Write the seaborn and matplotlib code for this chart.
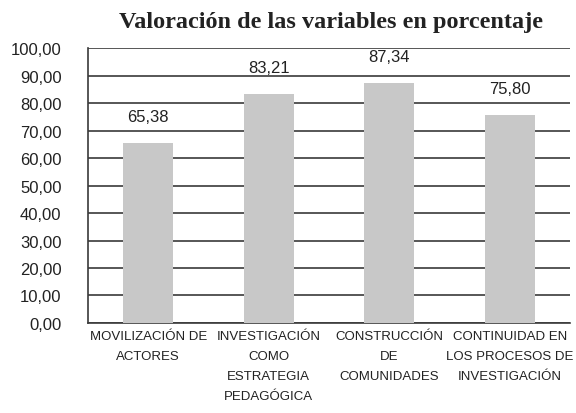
import matplotlib
matplotlib.use("Agg")
import matplotlib.pyplot as plt
import seaborn as sb
import pandas as pd
from matplotlib.ticker import FixedLocator

categorias = ["MOVILIZACIÓN DE\nACTORES",
              "INVESTIGACIÓN\nCOMO\nESTRATEGIA\nPEDAGÓGICA",
              "CONSTRUCCIÓN\nDE\nCOMUNIDADES",
              "CONTINUIDAD EN\nLOS PROCESOS DE\nINVESTIGACIÓN"]
valores = [65.38, 83.21, 87.34, 75.80]
y_ticks = [0, 10, 20, 30, 40, 50, 60, 70, 80, 90, 100]

sb.set_style("white")
plt.rcParams["font.family"] = ["Liberation Sans", "DejaVu Sans"]

df = pd.DataFrame({"cat": categorias, "val": valores})

fig = plt.figure(figsize=(5.76, 4.14), dpi=100)
ax = fig.add_axes([0.1528, 0.2174, 0.8368, 0.6642])

sb.barplot(data=df, x="cat", y="val", color="#c8c8c8", width=0.415,
           saturation=1, ax=ax, zorder=3, linewidth=0)

ax.set_xlim(-0.5, 3.5)
ax.set_ylim(0, 100)
ax.set_yticks(y_ticks)
ax.set_yticklabels([("%.2f" % v).replace(".", ",") for v in y_ticks], fontsize=12, color="#222222")
ax.yaxis.grid(True, color="#3a3a3a", linewidth=1.2, zorder=0)
ax.set_axisbelow(True)
ax.tick_params(axis="y", length=7, width=1.2, color="#3a3a3a", pad=12)

# category labels centred, tick marks at boundaries
ax.tick_params(axis="x", which="major", length=0, labelsize=9.5, pad=5, labelcolor="#222222")
ax.xaxis.set_minor_locator(FixedLocator([-0.5, 0.5, 1.5, 2.5, 3.5]))
ax.tick_params(axis="x", which="minor", length=5, width=1.2, color="#3a3a3a")
for t in ax.get_xticklabels():
    t.set_multialignment("center")
    t.set_linespacing(1.9)

for s in ["top", "right"]:
    ax.spines[s].set_visible(False)
for s in ["left", "bottom"]:
    ax.spines[s].set_color("#3a3a3a")
    ax.spines[s].set_linewidth(1.2)

for i, v in enumerate(valores):
    ax.annotate(("%.2f" % v).replace(".", ","), (i, v), xytext=(0, 19),
                textcoords="offset points", ha="center", va="center",
                fontsize=12, color="#222222")

ax.set_xlabel("")
ax.set_ylabel("")
fig.suptitle("Valoración de las variables en porcentaje", x=0.5755, y=0.972,
             va="top", fontsize=17.5, fontweight="bold",
             family="Liberation Serif", color="#222222")

fig.savefig("out.png", dpi=100)
plt.close(fig)
